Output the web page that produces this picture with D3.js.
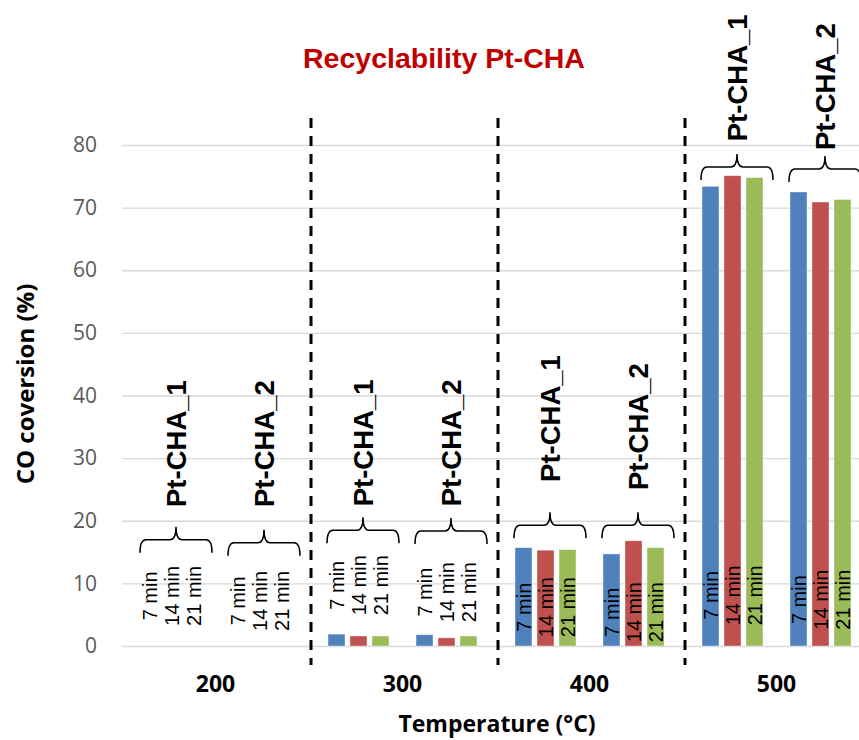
<!DOCTYPE html>
<html>
<head>
<meta charset="utf-8">
<script src="https://cdn.jsdelivr.net/npm/d3@7"></script>
<style>
  body { margin: 0; background: #fff; }
  svg { display: block; }
</style>
</head>
<body>
<div id="chart"></div>
<script>
// temperatures, samples and run times
var temps = ["200", "300", "400", "500"];
var samples = ["Pt-CHA_1", "Pt-CHA_2"];
var times = ["7 min", "14 min", "21 min"];
var colors = ["#4F81BD", "#C0504D", "#9BBB59"];

// CO conversion (%) per sample, per run time
var conv200 = [[0, 0, 0], [0, 0, 0]];
var conv300 = [[1.9, 1.6, 1.6], [1.8, 1.3, 1.6]];
var conv400 = [[15.7, 15.3, 15.4], [14.7, 16.8, 15.7]];
var conv500 = [[73.4, 75.1, 74.8], [72.5, 70.9, 71.3]];
var conv = [conv200, conv300, conv400, conv500];

var yTicks = [0, 10, 20, 30, 40, 50, 60, 70, 80];

// annotation heights (in % units): brace feet, sample name start, run time label middle
var braceBase = [[14.9, 14.4], [16.4, 16.3], [17.2, 17.2], [74.4, 74.1]];
var nameBase = [[22.2, 22.2], [22.3, 22.3], [26.2, 24.9], [80.6, 79.2]];
var timeMid = [[8.0, 7.2], [9.7, 8.6], [6.2, 5.4], [8.1, 7.4]];

var W = 859, H = 740;
var plotL = 122, plotR = 870, plotT = 145, plotB = 646;

var svg = d3.select("#chart").append("svg")
    .attr("width", W)
    .attr("height", H);

var x0 = d3.scaleBand().domain(temps).range([plotL, plotR]);
var x1 = d3.scaleBand().domain(samples).range([19, 195]);
var x2 = d3.scaleBand().domain(times).range([0, 61]).paddingInner(5 / 22);
var y = d3.scaleLinear().domain([0, 80]).range([plotB, plotT]);

// gridlines + y labels
var yAxis = d3.axisLeft(y)
    .tickValues(yTicks)
    .tickSize(-(W - plotL))
    .tickPadding(25);

var gy = svg.append("g")
    .attr("transform", "translate(" + plotL + ",0)")
    .call(yAxis);
gy.select(".domain").remove();
gy.selectAll(".tick line").attr("stroke", "#D9D9D9").attr("stroke-width", 1.3);
gy.selectAll(".tick text")
    .attr("fill", "#595959")
    .style("font-family", "'Open Sans', sans-serif")
    .style("font-size", "21px");

// x labels
var xAxis = d3.axisBottom(x0).tickSize(0).tickPadding(0);
var gx = svg.append("g")
    .attr("transform", "translate(0,692)")
    .call(xAxis);
gx.select(".domain").remove();
gx.selectAll(".tick text")
    .attr("dy", 0)
    .attr("fill", "#000")
    .style("font-family", "'Open Sans', sans-serif")
    .style("font-weight", "bold")
    .style("font-size", "23px");

// dashed separators between temperatures
svg.selectAll(".sep")
    .data(temps.slice(1))
    .enter().append("line")
    .attr("class", "sep")
    .attr("x1", function(d) { return x0(d) + 2; })
    .attr("x2", function(d) { return x0(d) + 2; })
    .attr("y1", 118)
    .attr("y2", 665)
    .attr("stroke", "#000")
    .attr("stroke-width", 3)
    .attr("stroke-dasharray", "10,8");

// bars
var groups = svg.selectAll(".temp")
    .data(temps)
    .enter().append("g")
    .attr("class", "temp")
    .attr("transform", function(d) { return "translate(" + x0(d) + ",0)"; });

groups.each(function(t, ti) {
    var g = d3.select(this);
    samples.forEach(function(s, si) {
        var sg = g.append("g").attr("transform", "translate(" + x1(s) + ",0)");
        var vals = conv[ti][si];

        sg.selectAll("rect")
            .data(vals)
            .enter().append("rect")
            .attr("x", function(d, i) { return x2(times[i]); })
            .attr("y", function(d) { return y(d); })
            .attr("width", x2.bandwidth())
            .attr("height", function(d) { return y(0) - y(d); })
            .attr("fill", function(d, i) { return colors[i]; })
            .attr("stroke", "#ffffff")
            .attr("stroke-opacity", 0.5)
            .attr("stroke-width", 0.8);

        // run time labels
        sg.selectAll(".tl")
            .data(times)
            .enter().append("text")
            .attr("class", "tl")
            .attr("transform", function(d) {
                return "translate(" + (x2(d) + x2.bandwidth() / 2) + "," + y(timeMid[ti][si]) + ") rotate(-90)";
            })
            .attr("text-anchor", "middle")
            .attr("dy", "0.35em")
            .style("font-family", "'Liberation Sans', Arial, sans-serif")
            .style("font-size", "20px")
            .text(function(d) { return d; });

        // curly brace
        var xa = -1, xb = 71, xm = 35, r = 6;
        var yb = y(braceBase[ti][si]), yl = yb - 13, yt = yb - 26;
        var p = d3.path();
        p.moveTo(xa, yb);
        p.quadraticCurveTo(xa, yl, xa + r, yl);
        p.lineTo(xm - r, yl);
        p.quadraticCurveTo(xm, yl, xm, yt);
        p.quadraticCurveTo(xm, yl, xm + r, yl);
        p.lineTo(xb - r, yl);
        p.quadraticCurveTo(xb, yl, xb, yb);
        sg.append("path")
            .attr("d", p.toString())
            .attr("fill", "none")
            .attr("stroke", "#000")
            .attr("stroke-width", 1.5);

        // sample name
        sg.append("text")
            .attr("transform", "translate(" + xm + "," + y(nameBase[ti][si]) + ") rotate(-90)")
            .attr("dy", "0.35em")
            .style("font-family", "'Liberation Sans', Arial, sans-serif")
            .style("font-weight", "bold")
            .style("font-size", "27.5px")
            .text(s);
    });
});

// title
svg.append("text")
    .attr("x", 444)
    .attr("y", 68)
    .attr("text-anchor", "middle")
    .attr("fill", "#C00000")
    .style("font-family", "'Liberation Sans', Arial, sans-serif")
    .style("font-weight", "bold")
    .style("font-size", "28.5px")
    .text("Recyclability Pt-CHA");

// axis titles
svg.append("text")
    .attr("transform", "translate(34,384) rotate(-90)")
    .attr("text-anchor", "middle")
    .style("font-family", "'Open Sans', sans-serif")
    .style("font-weight", "bold")
    .style("font-size", "24px")
    .text("CO coversion (%)");

svg.append("text")
    .attr("x", 497)
    .attr("y", 732)
    .attr("text-anchor", "middle")
    .style("font-family", "'Open Sans', sans-serif")
    .style("font-weight", "bold")
    .style("font-size", "23px")
    .text("Temperature (°C)");
</script>
</body>
</html>
